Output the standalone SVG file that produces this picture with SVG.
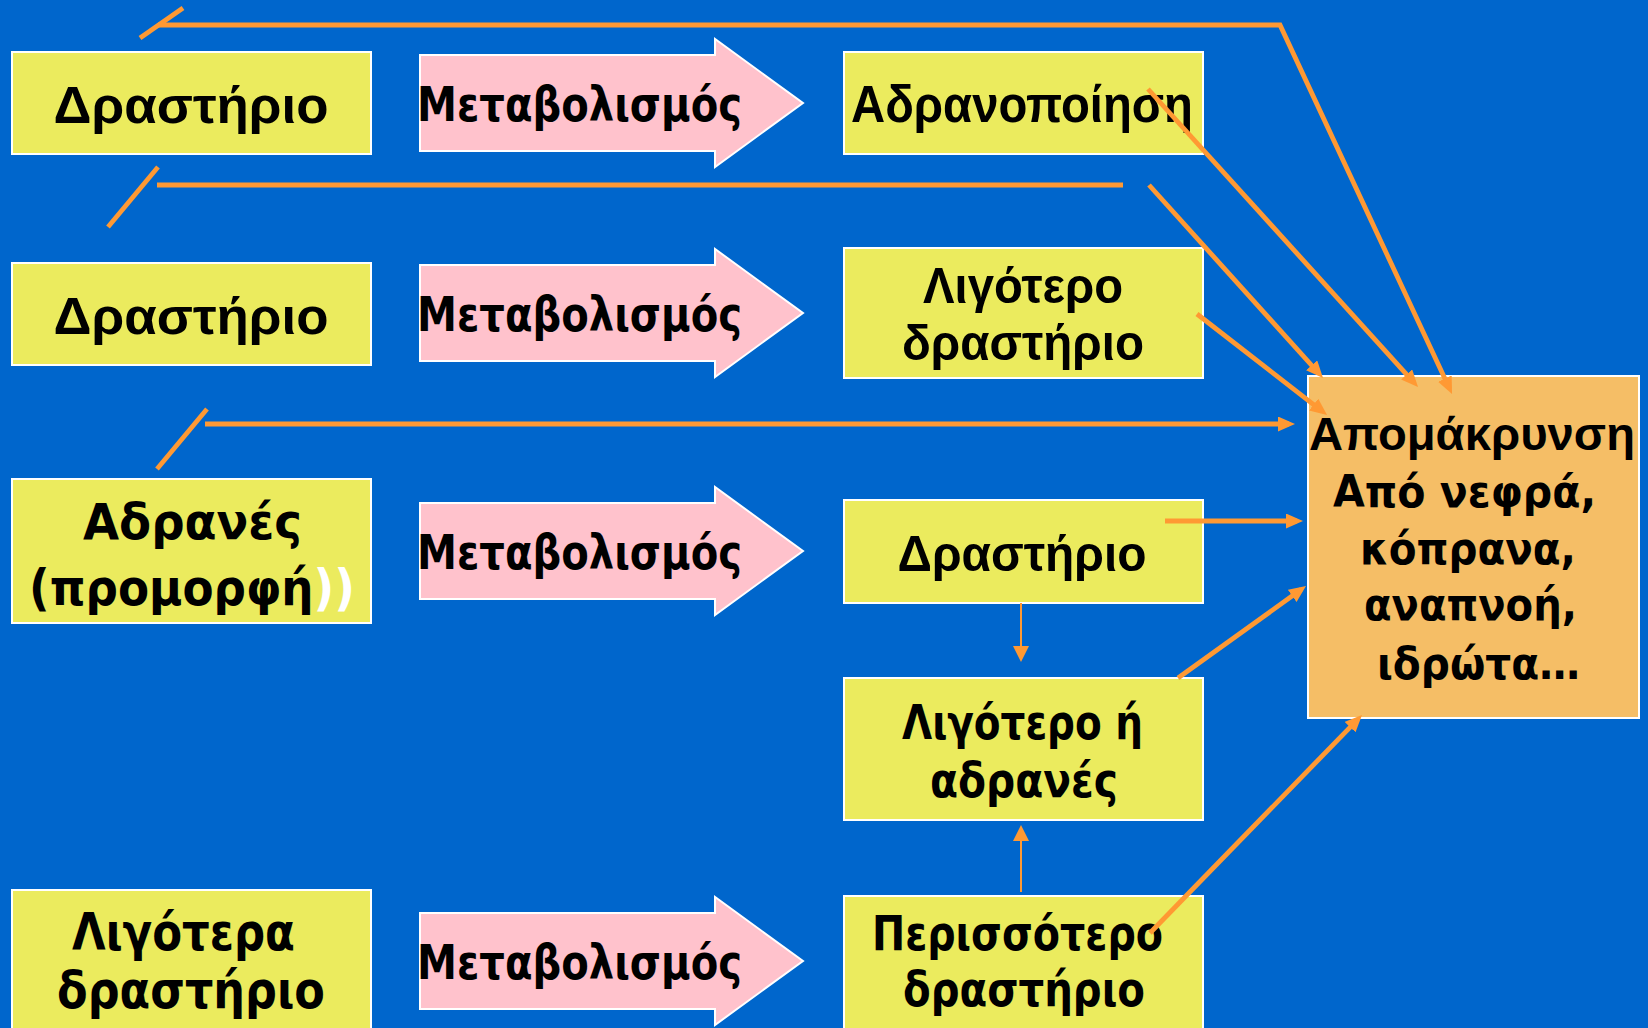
<svg xmlns="http://www.w3.org/2000/svg" width="1648" height="1028" viewBox="0 0 1648 1028">
<style>
.bg{fill:#0066CC}
.box{fill:#EBEB5E;stroke:#FFFFFF;stroke-width:2}
.obox{fill:#F5BE66;stroke:#FFFFFF;stroke-width:2}
.big{fill:#FFC2CC;stroke:#FFFFFF;stroke-width:2}
.a{font-family:"Liberation Sans",Arial,sans-serif;font-weight:bold;fill:#000}
.t{font-family:"DejaVu Sans",Verdana,sans-serif;font-weight:bold;fill:#000}
.ln{fill:none;stroke:#FF9933;stroke-width:4.8}
.thin{fill:none;stroke:#FF9933;stroke-width:2}
</style>
<defs>
<marker id="ah" markerUnits="userSpaceOnUse" viewBox="0 0 17 15" markerWidth="17" markerHeight="15" refX="11" refY="7.5" orient="auto">
<path d="M0,0 L17,7.5 L0,15 Z" fill="#FF9933"/>
</marker>
<marker id="ahs" markerUnits="userSpaceOnUse" viewBox="0 0 16 16" markerWidth="16" markerHeight="16" refX="4" refY="8" orient="auto">
<path d="M0,0 L16,8 L0,16 Z" fill="#FF9933"/>
</marker>
</defs>
<rect class="bg" x="0" y="0" width="1648" height="1028"/>

<g id="n-drastirio1">
<rect class="box" x="12" y="52" width="359" height="102"/>
<text class="a" x="191" y="123" font-size="52" text-anchor="middle" textLength="275" lengthAdjust="spacingAndGlyphs">Δραστήριο</text>
</g>
<g id="n-metab1">
<path class="big" d="M420,55 L715,55 L715,39 L803,103 L715,167 L715,151 L420,151 Z"/>
<text class="t" x="417" y="121" font-size="48" textLength="325" lengthAdjust="spacingAndGlyphs">Μεταβολισμός</text>
</g>
<g id="n-adranopoiisi">
<rect class="box" x="844" y="52" width="359" height="102"/>
<text class="a" x="851" y="122" font-size="52" textLength="342" lengthAdjust="spacingAndGlyphs">Αδρανοποίηση</text>
</g>

<g id="n-drastirio2">
<rect class="box" x="12" y="263" width="359" height="102"/>
<text class="a" x="191" y="334" font-size="52" text-anchor="middle" textLength="275" lengthAdjust="spacingAndGlyphs">Δραστήριο</text>
</g>
<g id="n-metab2">
<path class="big" d="M420,265 L715,265 L715,249 L803,313 L715,377 L715,361 L420,361 Z"/>
<text class="t" x="417" y="331" font-size="48" textLength="325" lengthAdjust="spacingAndGlyphs">Μεταβολισμός</text>
</g>
<g id="n-ligotero-drastirio">
<rect class="box" x="844" y="248" width="359" height="130"/>
<text class="a" x="1023" y="303" font-size="50" text-anchor="middle" textLength="200" lengthAdjust="spacingAndGlyphs">Λιγότερο</text>
<text class="a" x="1023" y="360" font-size="50" text-anchor="middle" textLength="242" lengthAdjust="spacingAndGlyphs">δραστήριο</text>
</g>

<g id="n-adranes">
<rect class="box" x="12" y="479" width="359" height="144"/>
<text class="t" x="83" y="539" font-size="49" textLength="219" lengthAdjust="spacingAndGlyphs">Αδρανές</text>
<text class="t" x="29" y="605" font-size="49" textLength="326" lengthAdjust="spacingAndGlyphs">(προμορφή<tspan fill="#FFFFFF">))</tspan></text>
</g>
<g id="n-metab3">
<path class="big" d="M420,503 L715,503 L715,487 L803,551 L715,615 L715,599 L420,599 Z"/>
<text class="t" x="417" y="569" font-size="48" textLength="325" lengthAdjust="spacingAndGlyphs">Μεταβολισμός</text>
</g>
<g id="n-drastirio3">
<rect class="box" x="844" y="500" width="359" height="103"/>
<text class="a" x="1022" y="571" font-size="50" text-anchor="middle" textLength="249" lengthAdjust="spacingAndGlyphs">Δραστήριο</text>
</g>
<g id="n-ligotero-adranes">
<rect class="box" x="844" y="678" width="359" height="142"/>
<text class="t" x="902" y="739" font-size="48" textLength="241" lengthAdjust="spacingAndGlyphs">Λιγότερο ή</text>
<text class="t" x="930" y="797" font-size="48" textLength="188" lengthAdjust="spacingAndGlyphs">αδρανές</text>
</g>

<g id="n-ligotera-drastirio">
<rect class="box" x="12" y="890" width="359" height="150"/>
<text class="t" x="72" y="950" font-size="51" textLength="223" lengthAdjust="spacingAndGlyphs">Λιγότερα</text>
<text class="t" x="57" y="1008" font-size="51" textLength="268" lengthAdjust="spacingAndGlyphs">δραστήριο</text>
</g>
<g id="n-metab4">
<path class="big" d="M420,913 L715,913 L715,897 L803,961 L715,1025 L715,1009 L420,1009 Z"/>
<text class="t" x="417" y="979" font-size="48" textLength="325" lengthAdjust="spacingAndGlyphs">Μεταβολισμός</text>
</g>
<g id="n-perissotero">
<rect class="box" x="844" y="896" width="359" height="144"/>
<text class="t" x="872" y="950" font-size="48" textLength="291" lengthAdjust="spacingAndGlyphs">Περισσότερο</text>
<text class="t" x="903" y="1006" font-size="48" textLength="242" lengthAdjust="spacingAndGlyphs">δραστήριο</text>
</g>

<g id="n-apomakrynsi">
<rect class="obox" x="1308" y="376" width="331" height="342"/>
<text class="a" x="1309" y="450" font-size="47" textLength="326" lengthAdjust="spacingAndGlyphs">Απομάκρυνση</text>
<text class="t" x="1333" y="507" font-size="45" textLength="263" lengthAdjust="spacingAndGlyphs">Από νεφρά,</text>
<text class="t" x="1360" y="564" font-size="45" textLength="216" lengthAdjust="spacingAndGlyphs">κόπρανα,</text>
<text class="t" x="1364" y="620" font-size="45" textLength="213" lengthAdjust="spacingAndGlyphs">αναπνοή,</text>
<text class="t" x="1377" y="679" font-size="45" textLength="203" lengthAdjust="spacingAndGlyphs">ιδρώτα…</text>
</g>

<g id="connectors">
<line class="ln" x1="140" y1="38" x2="183" y2="8"/>
<polyline class="ln" points="158,25 1280,25 1449.5,388.6" stroke-linejoin="miter" marker-end="url(#ah)"/>
<line class="ln" x1="108" y1="227" x2="158" y2="167"/>
<line class="ln" x1="157" y1="185" x2="1123" y2="185"/>
<line class="ln" x1="1149" y1="185" x2="1319" y2="373.5" marker-end="url(#ah)"/>
<line class="ln" x1="1148" y1="89" x2="1414" y2="382.6" marker-end="url(#ah)"/>
<line class="ln" x1="1197" y1="314" x2="1322.3" y2="411.3" marker-end="url(#ah)"/>
<line class="ln" x1="157" y1="469" x2="207" y2="409"/>
<line class="ln" x1="205" y1="424" x2="1289" y2="424" marker-end="url(#ah)"/>
<line class="ln" x1="1165" y1="521" x2="1297" y2="521" marker-end="url(#ah)"/>
<line class="ln" x1="1178" y1="678" x2="1301.1" y2="589.5" marker-end="url(#ah)"/>
<line class="ln" x1="1150" y1="933" x2="1357.8" y2="719.3" marker-end="url(#ah)"/>
<line class="thin" x1="1021" y1="603" x2="1021" y2="650" marker-end="url(#ahs)"/>
<line class="thin" x1="1021" y1="892" x2="1021" y2="837" marker-end="url(#ahs)"/>
</g>
</svg>
